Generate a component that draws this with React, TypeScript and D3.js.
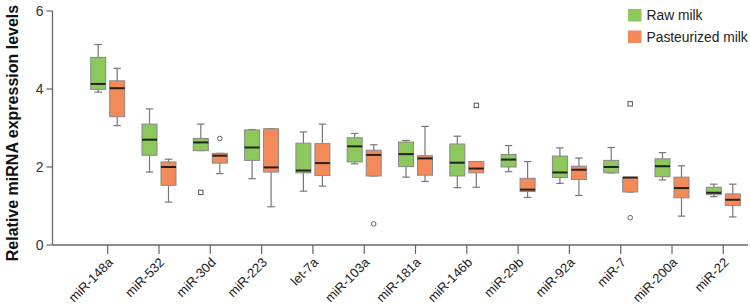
import React, { useEffect, useRef } from "react";
import * as d3 from "d3";

const categories = [
  "miR-148a", "miR-532", "miR-30d", "miR-223", "let-7a", "miR-103a", "miR-181a",
  "miR-146b", "miR-29b", "miR-92a", "miR-7", "miR-200a", "miR-22",
];

// [whisker low, Q1, median, Q3, whisker high]
const rawMilk = [
  [3.92, 3.99, 4.13, 4.81, 5.14],
  [1.87, 2.30, 2.70, 3.10, 3.49],
  [2.42, 2.42, 2.63, 2.73, 3.10],
  [1.70, 2.17, 2.50, 2.95, 2.96],
  [1.38, 1.85, 1.91, 2.61, 2.90],
  [2.08, 2.13, 2.53, 2.75, 2.86],
  [1.74, 2.01, 2.33, 2.64, 2.68],
  [1.47, 1.77, 2.11, 2.59, 2.79],
  [1.88, 2.00, 2.19, 2.32, 2.55],
  [1.58, 1.73, 1.86, 2.28, 2.49],
  [1.85, 1.85, 2.00, 2.17, 2.50],
  [1.67, 1.75, 2.02, 2.21, 2.37],
  [1.24, 1.29, 1.34, 1.48, 1.56],
];

const pasteurizedMilk = [
  [3.06, 3.29, 4.02, 4.21, 4.53],
  [1.10, 1.53, 2.00, 2.13, 2.20],
  [1.83, 2.10, 2.29, 2.35, 2.35],
  [0.98, 1.87, 1.99, 2.98, 2.98],
  [1.51, 1.78, 2.10, 2.60, 3.10],
  [1.77, 1.77, 2.31, 2.43, 2.57],
  [1.63, 1.79, 2.22, 2.29, 3.04],
  [1.48, 1.85, 1.96, 2.14, 2.14],
  [1.22, 1.37, 1.42, 1.71, 2.14],
  [1.27, 1.68, 1.93, 2.02, 2.23],
  [1.36, 1.36, 1.73, 1.73, 1.73],
  [0.74, 1.21, 1.46, 1.74, 2.03],
  [0.72, 1.01, 1.16, 1.31, 1.56],
];

// outliers: category, group, value, marker
const outliers = [
  { cat: "miR-30d", group: "raw", value: 1.35, shape: "square" },
  { cat: "miR-30d", group: "past", value: 2.73, shape: "circle" },
  { cat: "miR-103a", group: "past", value: 0.54, shape: "circle" },
  { cat: "miR-146b", group: "past", value: 3.58, shape: "square" },
  { cat: "miR-7", group: "past", value: 3.62, shape: "square" },
  { cat: "miR-7", group: "past", value: 0.70, shape: "circle" },
];

const groups = ["raw", "past"];
const groupLabels = ["Raw milk", "Pasteurized milk"];
const groupColors = ["#8dc85c", "#f48a5a"];
const yTicks = [0, 2, 4, 6];

const W = 750;
const H = 307;
const FONT = "'Liberation Sans', Arial, sans-serif";

export default function App() {
  const ref = useRef<SVGSVGElement>(null);

  useEffect(() => {
    const svg = d3.select(ref.current);
    svg.selectAll("*").remove();

    const y = d3.scaleLinear().domain([0, 6]).range([245, 11]);
    const x = d3.scalePoint().domain(categories).range([107.7, 723.3]);
    const xg = d3.scaleBand().domain(groups).range([-17, 17]).paddingInner(0.21);
    const bw = xg.bandwidth();
    const axisLeft = 52.5;

    // axes
    const g = svg.append("g").attr("font-family", FONT);
    g.append("line")
      .attr("x1", axisLeft).attr("x2", axisLeft)
      .attr("y1", y(6)).attr("y2", y(0))
      .attr("stroke", "#666").attr("stroke-width", 1.3);
    g.append("line")
      .attr("x1", axisLeft).attr("x2", 748)
      .attr("y1", y(0)).attr("y2", y(0))
      .attr("stroke", "#666").attr("stroke-width", 1.3);

    const yt = g.selectAll(".yt").data(yTicks).join("g").attr("transform", d => `translate(${axisLeft},${y(d)})`);
    yt.append("line").attr("x1", -6).attr("x2", 0).attr("stroke", "#666").attr("stroke-width", 1.2);
    yt.append("text").attr("x", -9).attr("dy", "0.35em").attr("text-anchor", "end")
      .attr("font-size", 14).attr("fill", "#333").text(d => d);

    const xt = g.selectAll(".xt").data(categories).join("g").attr("transform", d => `translate(${x(d)},${y(0)})`);
    xt.append("line").attr("y1", 0).attr("y2", 9).attr("stroke", "#666").attr("stroke-width", 1.2);
    xt.append("text")
      .attr("transform", "translate(3,15) rotate(-45)")
      .attr("text-anchor", "end").attr("dy", "0.35em")
      .attr("font-size", 13).attr("fill", "#222").text(d => d);

    g.append("text")
      .attr("transform", `translate(12,133) rotate(-90)`)
      .attr("text-anchor", "middle").attr("dy", "0.35em")
      .attr("font-size", 16).attr("font-weight", "bold").attr("fill", "#111")
      .text("Relative miRNA expression levels");

    // boxes
    const series = [rawMilk, pasteurizedMilk];
    series.forEach((stats, gi) => {
      const cx = (c: string) => (x(c) as number) + (xg(groups[gi]) as number) + bw / 2;
      const boxes = svg.append("g").selectAll("g").data(categories).join("g")
        .attr("transform", c => `translate(${cx(c)},0)`);
      boxes.append("line")
        .attr("y1", (c, i) => y(stats[i][0])).attr("y2", (c, i) => y(stats[i][4]))
        .attr("stroke", "#777").attr("stroke-width", 1.2);
      boxes.append("line")
        .attr("x1", -bw / 4).attr("x2", bw / 4)
        .attr("y1", (c, i) => y(stats[i][4])).attr("y2", (c, i) => y(stats[i][4]))
        .attr("stroke", "#777").attr("stroke-width", 1.2);
      boxes.append("line")
        .attr("x1", -bw / 4).attr("x2", bw / 4)
        .attr("y1", (c, i) => y(stats[i][0])).attr("y2", (c, i) => y(stats[i][0]))
        .attr("stroke", "#777").attr("stroke-width", 1.2);
      boxes.append("rect")
        .attr("x", -bw / 2).attr("width", bw)
        .attr("y", (c, i) => y(stats[i][3]))
        .attr("height", (c, i) => y(stats[i][1]) - y(stats[i][3]))
        .attr("fill", groupColors[gi]).attr("stroke", "#888").attr("stroke-width", 1);
      boxes.append("line")
        .attr("x1", -bw / 2).attr("x2", bw / 2)
        .attr("y1", (c, i) => y(stats[i][2])).attr("y2", (c, i) => y(stats[i][2]))
        .attr("stroke", "#222").attr("stroke-width", 2);
    });

    // outliers
    const og = svg.append("g").selectAll("g").data(outliers).join("g")
      .attr("transform", d => `translate(${(x(d.cat) as number) + (xg(d.group) as number) + bw / 2},${y(d.value)})`);
    og.filter(d => d.shape === "circle").append("circle")
      .attr("r", 2.3).attr("fill", "#fff").attr("stroke", "#666").attr("stroke-width", 1);
    og.filter(d => d.shape === "square").append("rect")
      .attr("x", -2.2).attr("y", -2.2).attr("width", 4.4).attr("height", 4.4)
      .attr("fill", "#fff").attr("stroke", "#555").attr("stroke-width", 1);

    // legend
    const lg = svg.append("g").attr("font-family", FONT).selectAll("g").data(groupLabels).join("g")
      .attr("transform", (d, i) => `translate(628,${9 + i * 21.5})`);
    lg.append("rect").attr("width", 13.5).attr("height", 12.5).attr("fill", (d, i) => groupColors[i]);
    lg.append("text").attr("x", 18.5).attr("y", 6.5).attr("dy", "0.35em")
      .attr("font-size", 13.8).attr("fill", "#222").text(d => d);
  }, []);

  return (
    <svg ref={ref} width={W} height={H}
      style={{ position: "absolute", left: 0, top: 0, background: "#fff" }} />
  );
}
